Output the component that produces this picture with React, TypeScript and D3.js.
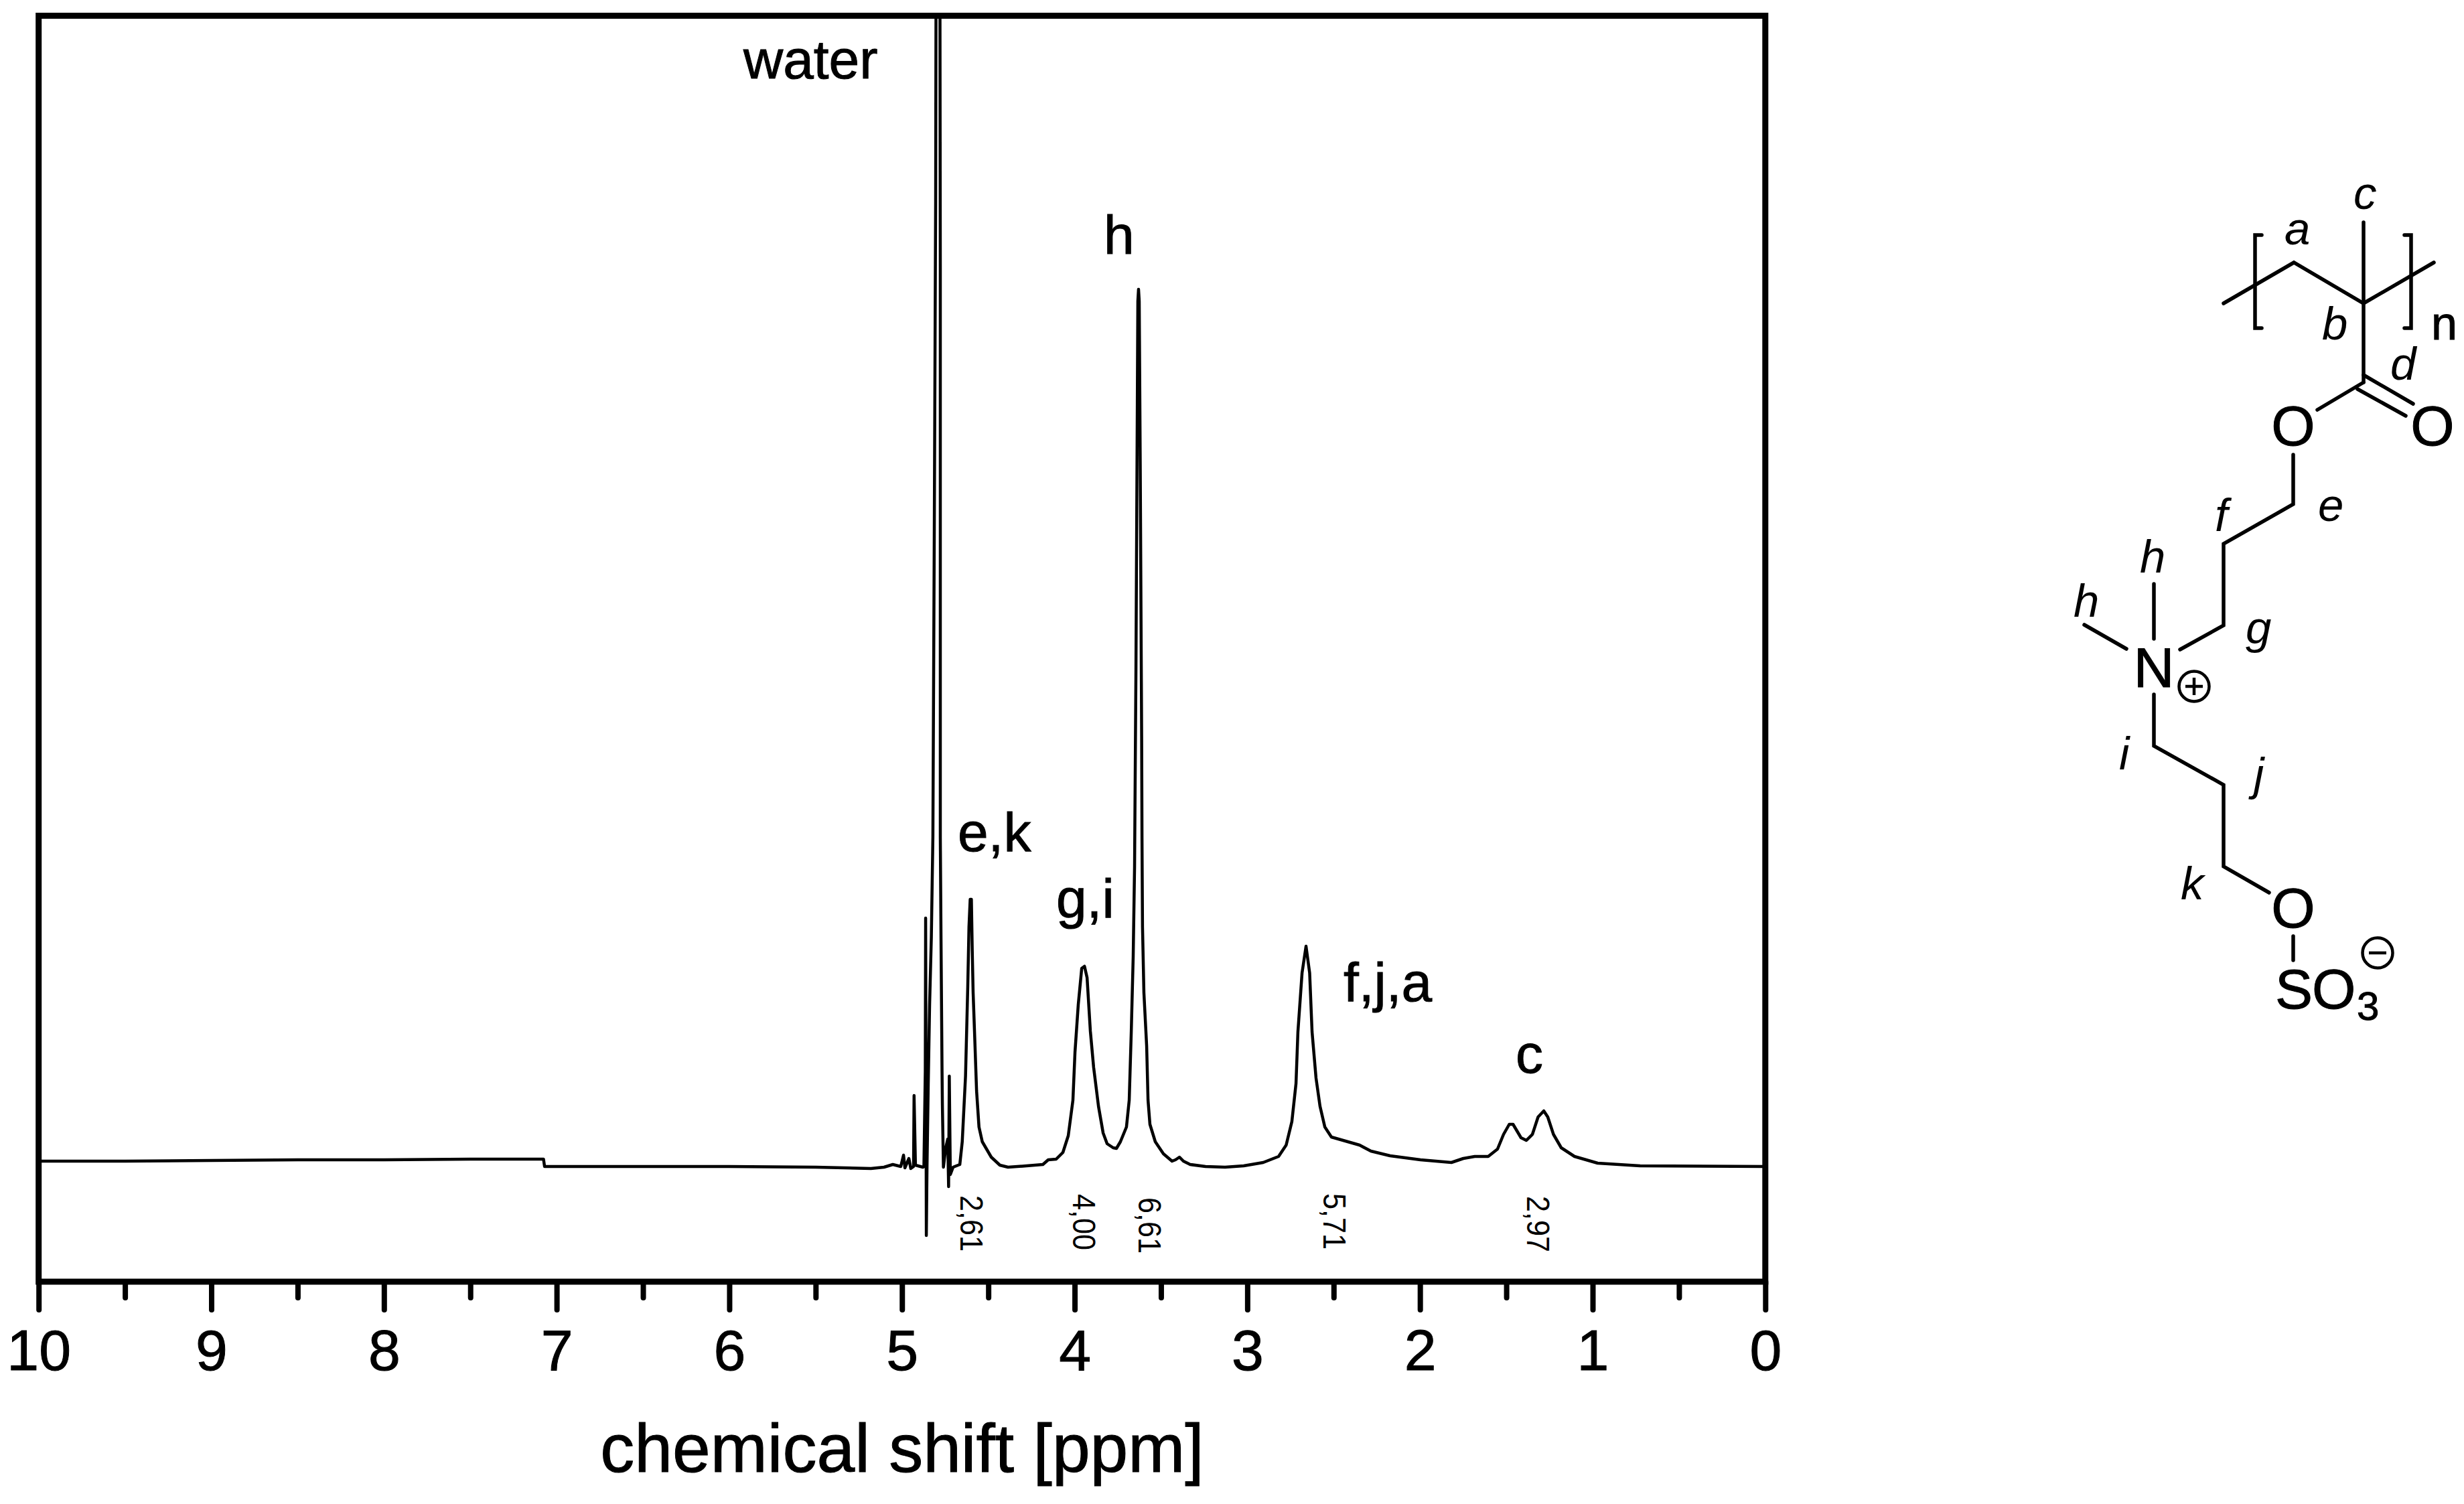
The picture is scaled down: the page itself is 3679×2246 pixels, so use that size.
import { useEffect, useRef } from "react";
import * as d3 from "d3";

// chemical shift in ppm, intensity in arbitrary units
const ppm = [
  10, 9.5, 9, 8.5, 8, 7.5, 7.076, 7.07, 6.5, 6, 5.5, 5.18, 5.104, 5.053, 5.007, 4.991, 4.983, 4.96, 4.949,
  4.933, 4.93, 4.922, 4.879, 4.873, 4.865, 4.863, 4.861, 4.859, 4.855, 4.848, 4.84, 4.83, 4.821, 4.813, 4.805,
  4.803, 4.78, 4.778, 4.778, 4.774, 4.768, 4.766, 4.76, 4.747, 4.735, 4.73, 4.726, 4.72, 4.704, 4.665, 4.651,
  4.632, 4.619, 4.612, 4.605, 4.598, 4.593, 4.588, 4.58, 4.568, 4.554, 4.535, 4.483, 4.433, 4.386, 4.278,
  4.184, 4.153, 4.107, 4.068, 4.037, 4.01, 3.998, 3.979, 3.959, 3.943, 3.928, 3.909, 3.89, 3.862, 3.835, 3.812,
  3.777, 3.758, 3.735, 3.7, 3.684, 3.672, 3.661, 3.653, 3.645, 3.637, 3.634, 3.63, 3.626, 3.62, 3.612, 3.61,
  3.607, 3.599, 3.583, 3.575, 3.564, 3.533, 3.486, 3.436, 3.416, 3.393, 3.37, 3.331, 3.242, 3.129, 3.021,
  2.908, 2.819, 2.775, 2.742, 2.718, 2.707, 2.683, 2.66, 2.639, 2.625, 2.602, 2.579, 2.551, 2.513, 2.35, 2.284,
  2.173, 1.997, 1.818, 1.749, 1.683, 1.605, 1.551, 1.516, 1.483, 1.461, 1.415, 1.384, 1.349, 1.316, 1.283, 1.26,
  1.227, 1.182, 1.105, 0.971, 0.725, 0,
];
const intensity = [
  180, 180, 181, 182, 182, 183, 183, 172, 172, 172, 171, 169, 171, 175, 172, 189, 170, 184, 169,
  172, 278, 174, 171, 172, 314, 543, 314, 69, 172, 294, 414, 514, 664, 1114, 1614,
  1904, 1904, 1514, 664, 514, 314, 264, 171, 199, 213, 142, 307, 160, 171, 175, 209,
  307, 441, 530, 571, 571, 494, 432, 374, 285, 231, 209, 186, 174, 171, 173,
  175, 182, 183, 193, 218, 271, 343, 414, 468, 471, 454, 374, 320, 262, 222, 206,
  200, 199, 209, 231, 271, 374, 485, 619, 914, 1314, 1464, 1482, 1464, 1214, 814, 664,
  530, 432, 352, 271, 235, 209, 191, 180, 182, 186, 180, 175, 172, 171, 173,
  178, 187, 204, 239, 296, 373, 461, 501, 461, 373, 304, 262, 231, 216, 204, 195,
  188, 182, 178, 184, 187, 187, 198, 220, 235, 235, 215, 211, 220, 246, 255, 246,
  220, 200, 187, 177, 173, 172,
];

const majorTicks = [10, 9, 8, 7, 6, 5, 4, 3, 2, 1, 0];
const minorTicks = [9.5, 8.5, 7.5, 6.5, 5.5, 4.5, 3.5, 2.5, 1.5, 0.5];

const peakLabels = [
  { text: "water", x: 1110, y: 117 },
  { text: "h", x: 1648, y: 379 },
  { text: "e,k", x: 1430, y: 1271 },
  { text: "g,i", x: 1577, y: 1370 },
  { text: "f,j,a", x: 2006, y: 1495 },
  { text: "c", x: 2263, y: 1602 },
];
const integrals = [
  { text: "2,61", x: 1434, y: 1785 },
  { text: "4,00", x: 1602, y: 1783 },
  { text: "6,61", x: 1700, y: 1788 },
  { text: "5,71", x: 1976, y: 1782 },
  { text: "2,97", x: 2280, y: 1786 },
];

// structure formula, drawn next to the spectrum
const bonds: [number, number][][] = [
  [[3320, 453], [3425, 392], [3529, 453], [3634, 392]],
  [[3529, 332], [3529, 571]],
  [[3529, 571], [3460, 612]],
  [[3529, 560], [3603, 603]],
  [[3520, 581], [3592, 621]],
  [[3424, 679], [3424, 753], [3320, 812], [3320, 934], [3255, 970]],
  [[3216, 872], [3216, 954]],
  [[3112, 933], [3175, 969]],
  [[3216, 1037], [3216, 1114], [3320, 1172], [3320, 1294], [3388, 1333]],
  [[3424, 1398], [3424, 1434]],
  [[3377, 351], [3367, 351], [3367, 490], [3377, 490]],
  [[3590, 351], [3600, 351], [3600, 490], [3590, 490]],
];
const atoms = [
  { text: "O", x: 3424, y: 665, size: 84, anchor: "middle" },
  { text: "O", x: 3632, y: 665, size: 84, anchor: "middle" },
  { text: "N", x: 3216, y: 1026, size: 84, anchor: "middle" },
  { text: "O", x: 3424, y: 1385, size: 84, anchor: "middle" },
  { text: "S", x: 3397, y: 1506, size: 84, anchor: "start" },
  { text: "O", x: 3452, y: 1506, size: 84, anchor: "start" },
  { text: "3", x: 3519, y: 1523, size: 60, anchor: "start" },
  { text: "n", x: 3630, y: 507, size: 70, anchor: "start" },
];
const positions = [
  { text: "a", x: 3411, y: 365 },
  { text: "c", x: 3514, y: 312 },
  { text: "b", x: 3467, y: 507 },
  { text: "d", x: 3569, y: 567 },
  { text: "e", x: 3461, y: 778 },
  { text: "f", x: 3307, y: 793 },
  { text: "h", x: 3195, y: 855 },
  { text: "h", x: 3096, y: 921 },
  { text: "g", x: 3353, y: 961 },
  { text: "i", x: 3164, y: 1149 },
  { text: "j", x: 3365, y: 1180 },
  { text: "k", x: 3256, y: 1343 },
];
const charges = [
  { sign: "+", x: 3276, y: 1025 },
  { sign: "-", x: 3550, y: 1423 },
];

const font = "'Liberation Sans', Arial, sans-serif";

const App = () => {
  const svgRef = useRef<SVGSVGElement>(null);

  useEffect(() => {
    const svg = d3.select(svgRef.current);
    svg.selectAll("*").remove();

    const x = d3.scaleLinear().domain([10, 0]).range([57.7, 2635.8]);
    const y = d3.scaleLinear().domain([0, 1890]).range([1914, 24]);

    svg
      .append("clipPath")
      .attr("id", "plot")
      .append("rect")
      .attr("x", 57.7)
      .attr("y", 24)
      .attr("width", 2578.1)
      .attr("height", 1890);

    const line = d3
      .line<number>()
      .x((d) => x(d))
      .y((_, i) => y(intensity[i]));

    svg
      .append("path")
      .attr("d", line(ppm))
      .attr("fill", "none")
      .attr("stroke", "#000")
      .attr("stroke-width", 4.5)
      .attr("stroke-linejoin", "round")
      .attr("clip-path", "url(#plot)");

    // frame
    svg
      .append("rect")
      .attr("x", 57.7)
      .attr("y", 23.5)
      .attr("width", 2578.1)
      .attr("height", 1890.5)
      .attr("fill", "none")
      .attr("stroke", "#000")
      .attr("stroke-width", 9);

    const minorAxis = d3
      .axisBottom(x)
      .tickValues(minorTicks)
      .tickSize(24)
      .tickFormat(() => "");
    const majorAxis = d3
      .axisBottom(x)
      .tickValues(majorTicks)
      .tickSize(42)
      .tickPadding(29)
      .tickFormat((d) => String(d));

    for (const axis of [minorAxis, majorAxis]) {
      const g = svg.append("g").attr("transform", "translate(0,1914)").call(axis);
      g.select(".domain").remove();
      g.selectAll(".tick line")
        .attr("stroke", "#000")
        .attr("stroke-width", 8)
        .attr("stroke-linecap", "round");
      g.selectAll(".tick text")
        .attr("fill", "#000")
        .attr("stroke", "#000")
        .attr("stroke-width", 1)
        .attr("font-family", font)
        .attr("font-size", 86);
    }

    svg
      .append("text")
      .attr("x", 1347)
      .attr("y", 2198)
      .attr("text-anchor", "middle")
      .attr("font-family", font)
      .attr("font-size", 102)
      .attr("stroke", "#000")
      .attr("stroke-width", 1)
      .text("chemical shift [ppm]");

    svg
      .append("g")
      .attr("stroke", "#000")
      .attr("stroke-width", 1)
      .selectAll("text")
      .data(peakLabels)
      .join("text")
      .attr("x", (d) => d.x)
      .attr("y", (d) => d.y)
      .attr("font-family", font)
      .attr("font-size", 82)
      .text((d) => d.text);

    svg
      .append("g")
      .selectAll("text")
      .data(integrals)
      .join("text")
      .attr("transform", (d) => `translate(${d.x},${d.y}) rotate(90) scale(0.9,1)`)
      .attr("font-family", font)
      .attr("font-size", 48)
      .text((d) => d.text);

    // structure
    const bondLine = d3.line();
    svg
      .append("g")
      .selectAll("path")
      .data(bonds)
      .join("path")
      .attr("d", (d) => bondLine(d))
      .attr("fill", "none")
      .attr("stroke", "#000")
      .attr("stroke-width", 5.5)
      .attr("stroke-linecap", "round")
      .attr("stroke-linejoin", "miter");

    svg
      .append("g")
      .attr("stroke", "#000")
      .attr("stroke-width", 1)
      .selectAll("text")
      .data(atoms)
      .join("text")
      .attr("x", (d) => d.x)
      .attr("y", (d) => d.y)
      .attr("text-anchor", (d) => d.anchor)
      .attr("font-family", font)
      .attr("font-size", (d) => d.size)
      .text((d) => d.text);

    svg
      .append("g")
      .selectAll("text")
      .data(positions)
      .join("text")
      .attr("x", (d) => d.x)
      .attr("y", (d) => d.y)
      .attr("font-family", font)
      .attr("font-style", "italic")
      .attr("font-size", 69)
      .text((d) => d.text);

    const charge = svg
      .append("g")
      .selectAll("g")
      .data(charges)
      .join("g")
      .attr("transform", (d) => `translate(${d.x},${d.y})`)
      .attr("fill", "none")
      .attr("stroke", "#000")
      .attr("stroke-width", 4.5);
    charge.append("circle").attr("r", 22.5);
    charge.append("line").attr("x1", -13).attr("x2", 13);
    charge
      .filter((d) => d.sign === "+")
      .append("line")
      .attr("y1", -13)
      .attr("y2", 13);
  }, []);

  return (
    <svg
      ref={svgRef}
      width={3679}
      height={2246}
      style={{ position: "absolute", left: 0, top: 0, background: "#fff" }}
    ></svg>
  );
};

export default App;
